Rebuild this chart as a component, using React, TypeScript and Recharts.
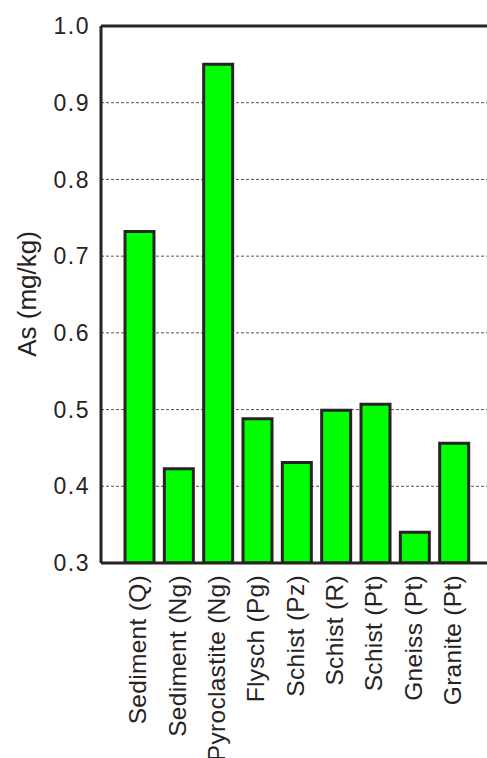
import {
	BarChart,
	Bar,
	XAxis,
	YAxis,
	CartesianGrid,
	ReferenceLine,
	Label,
} from 'recharts';

const rockTypes = [
	'Sediment (Q)',
	'Sediment (Ng)',
	'Pyroclastite (Ng)',
	'Flysch (Pg)',
	'Schist (Pz)',
	'Schist (R)',
	'Schist (Pt)',
	'Gneiss (Pt)',
	'Granite (Pt)',
];

const arsenic = [0.732, 0.423, 0.95, 0.488, 0.431, 0.499, 0.507, 0.34, 0.456];

const yTicks = [0.3, 0.4, 0.5, 0.6, 0.7, 0.8, 0.9, 1.0];

const data = rockTypes.map((rock, i) => ({ rock, as: arsenic[i] }));

const FONT = '"Liberation Sans", Arial, sans-serif';
const INK = '#262324';

function RockTick({ x, y, payload }: any) {
	return (
		<g transform={`translate(${x},${y})`}>
			<text
				x={0}
				y={0}
				dy={6.5}
				transform='rotate(-90)'
				textAnchor='end'
				fontFamily={FONT}
				fontSize={24.5}
				letterSpacing={0.3}
				fill={INK}>
				{payload.value}
			</text>
		</g>
	);
}

function AxisTitle() {
	return (
		<text
			x={27}
			y={294}
			transform='rotate(-90 27 294)'
			textAnchor='middle'
			dominantBaseline='central'
			fontFamily={FONT}
			fontSize={26}
			fill={INK}>
			As (mg/kg)
		</text>
	);
}

export default function App() {
	return (
		<div
			style={{
				position: 'absolute',
				left: 0,
				top: 0,
				width: 487,
				height: 758,
				overflow: 'hidden',
				background: '#fff',
			}}>
			<BarChart
				width={540}
				height={800}
				data={data}
				margin={{ top: 26, right: 0, left: 0, bottom: 0 }}>
				<CartesianGrid
					vertical={false}
					stroke='#555'
					strokeDasharray='3 2'
				/>
				<XAxis
					dataKey='rock'
					height={237}
					interval={0}
					padding={{ left: 19, right: 66 }}
					tickLine={false}
					tickSize={0}
					tickMargin={12}
					tick={<RockTick />}
					axisLine={{ stroke: INK, strokeWidth: 3 }}
				/>
				<YAxis
					width={101}
					domain={[0.3, 1.0]}
					ticks={yTicks}
					allowDataOverflow
					tickLine={false}
					tickSize={0}
					tickMargin={11}
					tickFormatter={(v: number) => v.toFixed(1)}
					tick={{
						fill: INK,
						fontSize: 23,
						fontFamily: FONT,
						letterSpacing: 1.5,
					}}
					axisLine={{ stroke: INK, strokeWidth: 3 }}>
					<Label content={<AxisTitle />} />
				</YAxis>
				<ReferenceLine y={1.0} stroke={INK} strokeWidth={3} />
				<Bar
					dataKey='as'
					fill='#00ff00'
					stroke={INK}
					strokeWidth={3}
					barSize={29}
					isAnimationActive={false}
				/>
			</BarChart>
		</div>
	);
}
